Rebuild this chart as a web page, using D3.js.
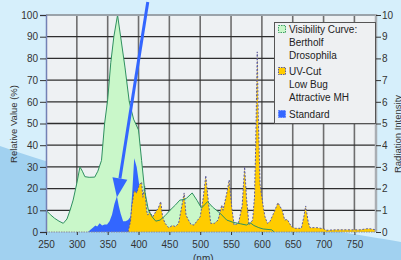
<!DOCTYPE html>
<html><head><meta charset="utf-8">
<script src="https://cdn.jsdelivr.net/npm/d3@7/dist/d3.min.js"></script>
<style>html,body{margin:0;padding:0;overflow:hidden;background:#d6effb}svg{display:block}</style>
</head><body>
<svg id="chart" width="401" height="260"></svg>
<script>
// ---------- data ----------
const xTickValues = [250,300,350,400,450,500,550,600,650,700,750];
const leftTickValues = [0,10,20,30,40,50,60,70,80,90,100];
const rightTickValues = [0,1,2,3,4,5,6,7,8,9,10];
const legendLabels = [["Visibility Curve:","Bertholf","Drosophila"],["UV-Cut","Low Bug","Attractive MH"],["Standard"]];
const seriesNames = ["Visibility Curve: Bertholf Drosophila","UV-Cut Low Bug Attractive MH","Standard"];

const visibilityNm  = [250,257,264,271,278,284,289,294,300,305,309,313,320,329,334,340,345,350,355,360,366,371,378,385,392,400,405,410,416,422,428,435,443,451,460,467,474,478,487,495,502,507,512,520,532,543,553,565,575,581,587,595,602,616,620];
const visibilityVal = [10,8,6.3,5,4,6,10,14.7,22.5,30,28,25.5,25.2,25.3,28,33,50,61,78,90,100,90,76,60,52,47,33,19,10,7,5,5.5,7.5,10,12.5,14.7,15,15.6,18,14.5,11,12.5,14,11.5,8.7,5.5,4.5,3.8,3.2,4.3,3,2,1.4,1,0];

const uvcutNm  = [383,387,389,393,397,401,405,407,410,413,415,418,423,428,432,436,439,443,449,455,460,465,470,474,477,481,485,490,494,500,505,509,513,517,523,529,535,537,543,547,551,555,562,568,572,575,579,585,588,590,592.5,594,597,602,605,609,613,618,621,626,633,637,641,648,654,664,668,671,675,678,689,700,705,720,732,745,759,770,775,785];
const uvcutVal = [0,5,11.7,19,18,21.7,23,16,21,10,7.8,9.4,7,9.4,11,14,7,4,2,3,2.5,4,11.7,18,7.8,5.5,3.5,3.2,4.8,7,16,26,14.7,4,4,5.5,12.4,10,17.8,24,11.7,3.2,4,12,30,16,3.2,5.5,16,40,83,55,22,12,7,4,4.8,8,10,13.5,10,5.5,5.8,2.5,1.7,1.7,7,12,4.8,2,2,1.5,0.8,1,1,1,1,1.5,1.5,1];

const standardNm  = [318,322,326,330,333,337,341,345,349,353,357,361,365,368,371,375,379,383,387,390,393,397,401,405,410];
const standardVal = [0,1,2,3,2.5,4,3,3.5,3.5,5,8,13,16.5,12,8.5,5,5,5.5,7,19,34,30,22,10,0];

// annotation arrow (data coordinates: nm, %)
const arrowFrom = [415, 106];
const arrowTo   = [365, 16];

// ---------- build ----------
const zip = (a,b) => a.map((v,i)=>({nm:v, v:b[i]}));
const visibility = zip(visibilityNm, visibilityVal);
const uvcut = zip(uvcutNm, uvcutVal);
const standard = zip(standardNm, standardVal);

const svg = d3.select("#chart");
const W = 401, H = 260;
const plot = {l:46, r:376, t:15, b:232};

const x = d3.scaleLinear().domain([250,785]).range([plot.l, plot.r]);
const y = d3.scaleLinear().domain([0,100]).range([plot.b, plot.t]);
const y2 = d3.scaleLinear().domain([0,10]).range([plot.b, plot.t]);

// background
svg.append("rect").attr("width",W).attr("height",H).attr("fill","#d6effb");
svg.append("path")
  .attr("d","M0,146 C90,178 230,212 320,228 C350,234 380,238 401,242 L401,260 L0,260 Z")
  .attr("fill","#a1d1f0");

// plot background
svg.append("rect").attr("x",plot.l).attr("y",plot.t)
  .attr("width",plot.r-plot.l).attr("height",plot.b-plot.t).attr("fill","#eef1f3");

// grid
const grid = svg.append("g");
grid.selectAll(".vg").data(xTickValues.filter(d=>d>250)).enter().append("line")
  .attr("x1",d=>x(d)).attr("x2",d=>x(d)).attr("y1",plot.t).attr("y2",plot.b)
  .attr("stroke","#6e6e6e").attr("stroke-width",1.6);
grid.selectAll(".hg").data(leftTickValues.filter(d=>d>0 && d<100)).enter().append("line")
  .attr("x1",plot.l).attr("x2",plot.r).attr("y1",d=>y(d)).attr("y2",d=>y(d))
  .attr("stroke","#2e2e2e").attr("stroke-width",1.3);

const clip = svg.append("clipPath").attr("id","clip").append("rect")
  .attr("x",plot.l).attr("y",plot.t-1).attr("width",plot.r-plot.l).attr("height",plot.b-plot.t+1);

const area = d3.area().x(d=>x(d.nm)).y0(y(0)).y1(d=>y(d.v));
const line = d3.line().x(d=>x(d.nm)).y(d=>y(d.v));

const g = svg.append("g").attr("clip-path","url(#clip)");
g.append("path").datum(visibility).attr("d",area).attr("fill","#c9f7c9");
g.append("path").datum(standard).attr("d",area).attr("fill","#3366ff");
g.append("path").datum(uvcut).attr("d",area).attr("fill","#ffcc00");
g.append("path").datum(uvcut).attr("d",line).attr("fill","none")
  .attr("stroke","#5b5b9e").attr("stroke-width",1).attr("stroke-dasharray","2,1.6");
g.append("path").datum(visibility).attr("d",line).attr("fill","none")
  .attr("stroke","#2f9160").attr("stroke-width",1);

// borders
svg.append("line").attr("x1",plot.l).attr("x2",plot.r).attr("y1",plot.t).attr("y2",plot.t)
  .attr("stroke","#9aa3aa").attr("stroke-width",2);
svg.append("line").attr("x1",plot.r).attr("x2",plot.r).attr("y1",plot.t-1).attr("y2",plot.b)
  .attr("stroke","#a9aeb3").attr("stroke-width",2.5);
svg.append("line").attr("x1",plot.l).attr("x2",plot.r).attr("y1",plot.b).attr("y2",plot.b)
  .attr("stroke","#8a8a9a").attr("stroke-width",1.2).attr("stroke-dasharray","1.5,1");

// axes
const fontFam = "'Liberation Sans', Arial, sans-serif";
const styleAxis = (sel, col) => {
  sel.selectAll("text").attr("font-family",fontFam).attr("font-size","10px").attr("fill","#333");
  sel.selectAll(".tick line").attr("stroke","#333");
};
const axL = svg.append("g").attr("transform",`translate(${plot.l},0)`)
  .call(d3.axisLeft(y).tickValues(leftTickValues).tickSize(6).tickPadding(2));
axL.select(".domain").attr("stroke","#7381b5").attr("stroke-width",1.5);
styleAxis(axL);

const axR = svg.append("g").attr("transform",`translate(${plot.r},0)`)
  .call(d3.axisRight(y2).tickValues(rightTickValues).tickSize(5).tickPadding(1));
axR.select(".domain").remove();
styleAxis(axR);

const axB = svg.append("g").attr("transform",`translate(0,${plot.b})`)
  .call(d3.axisBottom(x).tickValues(xTickValues).tickSize(3).tickPadding(6));
axB.select(".domain").remove();
styleAxis(axB);

// axis titles
svg.append("text").attr("transform","translate(17,124) rotate(-90)")
  .attr("text-anchor","middle").attr("font-family",fontFam).attr("font-size","9.5px").attr("fill","#333")
  .text("Relative Value (%)");
svg.append("text").attr("transform","translate(401,134) rotate(-90)")
  .attr("text-anchor","middle").attr("font-family",fontFam).attr("font-size","9.5px").attr("fill","#333")
  .text("Radiation Intensity");
svg.append("text").attr("x",x(505)).attr("y",262)
  .attr("text-anchor","middle").attr("font-family",fontFam).attr("font-size","10px").attr("fill","#333")
  .text("(nm)");

// arrow annotation
const ax0 = x(arrowFrom[0]), ay0 = y(arrowFrom[1]), ax1 = x(arrowTo[0]), ay1 = y(arrowTo[1]);
const ang = Math.atan2(ay1-ay0, ax1-ax0);
const headLen = 19, headW = 7.5;
const bx = ax1 - headLen*Math.cos(ang), by = ay1 - headLen*Math.sin(ang);
svg.append("line").attr("x1",ax0).attr("y1",ay0).attr("x2",bx).attr("y2",by)
  .attr("stroke","#3366ff").attr("stroke-width",3);
svg.append("path")
  .attr("d",`M${ax1},${ay1} L${bx+headW*Math.sin(ang)},${by-headW*Math.cos(ang)} L${bx-headW*Math.sin(ang)},${by+headW*Math.cos(ang)} Z`)
  .attr("fill","#3366ff");

// legend
const lg = svg.append("g");
lg.append("rect").attr("x",274.5).attr("y",22.5).attr("width",101).attr("height",101)
  .attr("fill","#eef0f2").attr("stroke","#555").attr("stroke-width",1);
const legendFill = ["#c9f7c9","#ffcc00","#3366ff"];
const legendStroke = ["#3aa063","#5b5b9e","#5a7dff"];
const legendTop = [29, 71, 114];
legendLabels.forEach((lines,i)=>{
  lg.append("rect").attr("x",278.5).attr("y",legendTop[i]-3.5).attr("width",7).attr("height",7)
    .attr("fill",legendFill[i]).attr("stroke",legendStroke[i]).attr("stroke-dasharray","1.5,1");
  lines.forEach((t,j)=>{
    lg.append("text").attr("x",289).attr("y",legendTop[i]+3.6+j*13)
      .attr("font-family",fontFam).attr("font-size","10px").attr("fill","#222").text(t);
  });
});
</script>
</body></html>
